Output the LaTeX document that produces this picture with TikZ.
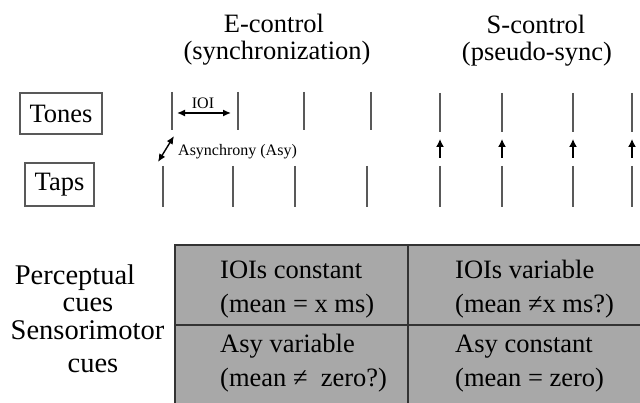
\documentclass[tikz,border=0pt]{standalone}
\usepackage{fontspec}
\setmainfont{Liberation Serif}
\usetikzlibrary{arrows.meta}
\definecolor{linegray}{gray}{0.35}
\definecolor{boxgray}{gray}{0.66}
\definecolor{edgegray}{gray}{0.2}
\tikzset{
  big/.style={font=\fontsize{26.5}{30}\selectfont, inner sep=0pt},
  side/.style={font=\fontsize{28.5}{32}\selectfont, inner sep=0pt, anchor=base},
  small/.style={font=\fontsize{16}{18}\selectfont, inner sep=0pt},
  tick/.style={draw=linegray, line width=1.6pt},
  labelbox/.style={big, draw=linegray, line width=1.3pt},
  dbl/.style={line width=1.4pt, {Latex[length=8pt,width=7pt]}-{Latex[length=8pt,width=7pt]}},
  up/.style={line width=1.4pt, -{Latex[length=8pt,width=8pt]}},
  cell/.style={big, anchor=base west}
}
\begin{document}
\begin{tikzpicture}[x=1pt,y=-1pt]
\useasboundingbox (0,0) rectangle (640,403);
% titles
\node[big, anchor=base] (et1) at (274,33) {E-control};
\node[big, anchor=base] (et2) at (277,60) {(synchronization)};
\node[big, anchor=base] (st1) at (536,34) {S-control};
\node[big, anchor=base] (st2) at (537,61) {(pseudo-sync)};
% row labels
\node[labelbox, minimum width=82pt, minimum height=41pt] (tones) at (61,113.5) {Tones};
\node[labelbox, minimum width=69pt, minimum height=43pt] (taps) at (59.5,184.5) {Taps};
% E-control ticks
\foreach \x in {172,238,304,371} \draw[tick] (\x,92) -- (\x,130);
\foreach \x in {163,233,295,367} \draw[tick] (\x,166) -- (\x,207);
% S-control ticks and arrows
\foreach \x in {440,502,573,632} {
  \draw[tick] (\x,93) -- (\x,132);
  \draw[tick] (\x,166) -- (\x,207);
  \coordinate (a\x) at (\x,158);
  \coordinate (b\x) at (\x,139);
  \draw[up] (a\x) -- (b\x);
}
% IOI
\coordinate (ioiL) at (177,113);
\coordinate (ioiR) at (231,113);
\draw[dbl] (ioiL) -- (ioiR);
\node[small, anchor=base] (ioi) at (203,108.5) {IOI};
% Asynchrony
\coordinate (asyA) at (158,162);
\coordinate (asyB) at (174,136);
\draw[dbl] (asyA) -- (asyB);
\node[small, anchor=base west] (asy) at (178,156) {Asynchrony (Asy)};
% table
\fill[boxgray] (175,245) rectangle (640,403);
\draw[edgegray, line width=1.6pt] (175,403) -- (175,245) -- (640,245);
\draw[edgegray, line width=1.4pt] (408,245) -- (408,403);
\draw[edgegray, line width=1.4pt] (175,325) -- (640,325);
\node[cell] (c11a) at (220,279) {IOIs constant};
\node[cell] (c11b) at (220,312.5) {(mean = x ms)};
\node[cell] (c21a) at (220,352.5) {Asy variable};
\node[cell] (c21b) at (220,386.5) {(mean ≠ \ zero?)};
\node[cell] (c12a) at (455,279) {IOIs variable};
\node[cell] (c12b) at (455,312.5) {(mean ≠x ms?)};
\node[cell] (c22a) at (455,352.5) {Asy constant};
\node[cell] (c22b) at (455,386.5) {(mean = zero)};
% side labels
\node[side] (p1) at (75,285) {Perceptual};
\node[side] (p2) at (88,312) {cues};
\node[side] (s1) at (87.5,340) {Sensorimotor};
\node[side] (s2) at (93,372) {cues};
\end{tikzpicture}
\end{document}
